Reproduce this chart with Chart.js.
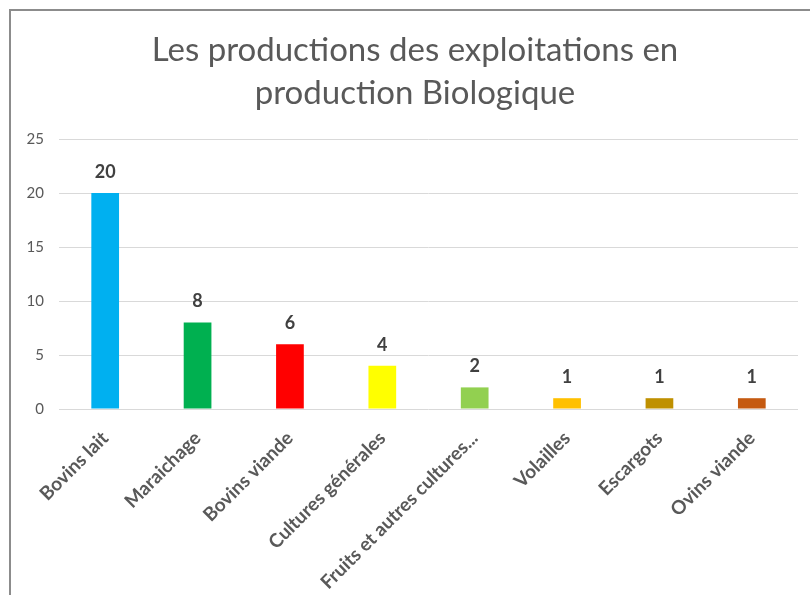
<!DOCTYPE html>
<html>
<head>
<meta charset="utf-8">
<script src="https://cdn.jsdelivr.net/npm/chart.js@4/dist/chart.umd.min.js"></script>
<style>
  html, body { margin: 0; padding: 0; background: #ffffff; }
  #wrap { position: absolute; left: 0; top: 0; width: 810px; height: 595px; }
  #frame { position: absolute; left: 9px; top: 9px; width: 820px; height: 600px;
           border-left: 2px solid #8c8c8c; border-top: 2px solid #8c8c8c; box-sizing: border-box; }
  canvas { position: absolute; left: 0; top: 0; }
</style>
</head>
<body>
<div id="wrap">
  <canvas id="c" width="810" height="595"></canvas>
  <div id="frame"></div>
</div>
<script>
const titleLines = ["Les productions des exploitations en", "production Biologique"];
const categories = ["Bovins lait", "Maraichage", "Bovins viande", "Cultures générales",
  "Fruits et autres cultures...", "Volailles", "Escargots", "Ovins viande"];
const values = [20, 8, 6, 4, 2, 1, 1, 1];
const barColors = ["#00b0f0", "#00b050", "#ff0000", "#ffff00", "#92d050", "#ffc000", "#bf9000", "#c55a11"];
const yTicks = [0, 5, 10, 15, 20, 25];

const FONT = 'Lato, "Open Sans", sans-serif';

const titleDraw = {
  id: 'titleDraw',
  afterDraw(chart) {
    const ctx = chart.ctx;
    ctx.save();
    ctx.font = '33px ' + FONT;
    ctx.fillStyle = '#595959';
    ctx.textAlign = 'center';
    ctx.textBaseline = 'middle';
    titleLines.forEach((t, i) => ctx.fillText(t, 415, 50 + i * 43));
    ctx.restore();
  }
};

const valueLabels = {
  id: 'valueLabels',
  afterDatasetsDraw(chart) {
    const ctx = chart.ctx;
    const meta = chart.getDatasetMeta(0);
    ctx.save();
    ctx.font = 'bold 18px ' + FONT;
    ctx.fillStyle = '#404040';
    ctx.textAlign = 'center';
    ctx.textBaseline = 'middle';
    meta.data.forEach((bar, i) => {
      ctx.fillText(String(values[i]), bar.x, bar.y - 21);
    });
    ctx.restore();
  }
};

new Chart(document.getElementById('c'), {
  type: 'bar',
  data: {
    labels: categories,
    datasets: [{
      data: values,
      backgroundColor: barColors,
      borderWidth: 0,
      barPercentage: 0.6,
      categoryPercentage: 0.5
    }]
  },
  options: {
    responsive: false,
    animation: false,
    layout: { padding: { left: 0, right: 12, top: 139, bottom: 0 } },
    plugins: {
      legend: { display: false },
      tooltip: { enabled: false },
      title: { display: false }
    },
    scales: {
      x: {
        grid: { display: false, drawTicks: false },
        border: { display: false },
        ticks: {
          color: '#595959',
          font: { family: FONT, size: 19, weight: 'bold' },
          minRotation: 45, maxRotation: 45, autoSkip: false, padding: 18
        },
        afterFit(scale) { scale.height = 186; }
      },
      y: {
        min: 0, max: 25,
        afterBuildTicks(scale) { scale.ticks = yTicks.map(v => ({ value: v })); },
        grid: { color: '#d9d9d9', lineWidth: 1, drawTicks: false },
        border: { display: false },
        ticks: {
          color: '#595959',
          font: { family: FONT, size: 15 },
          padding: 15
        },
        afterFit(scale) { scale.width = 59; }
      }
    }
  },
  plugins: [valueLabels, titleDraw]
});
</script>
</body>
</html>
